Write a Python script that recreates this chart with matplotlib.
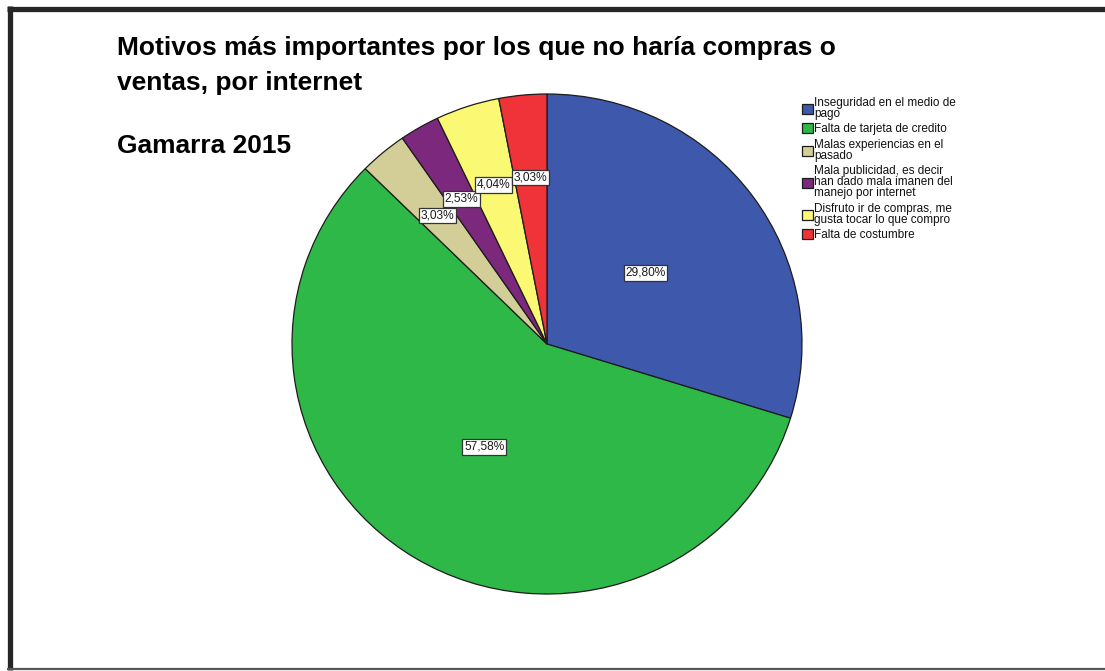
import matplotlib
matplotlib.use("Agg")
import matplotlib.pyplot as plt
from matplotlib.lines import Line2D
import numpy as np

plt.rcParams['font.family'] = ['Liberation Sans', 'DejaVu Sans']

# Survey results (percent of respondents)
categories = [
    "Inseguridad en el medio de\npago",
    "Falta de tarjeta de credito",
    "Malas experiencias en el\npasado",
    "Mala publicidad, es decir\nhan dado mala imanen del\nmanejo por internet",
    "Disfruto ir de compras, me\ngusta tocar lo que compro",
    "Falta de costumbre",
]
percentages = [29.80, 57.58, 3.03, 2.53, 4.04, 3.03]
value_labels = ["29,80%", "57,58%", "3,03%", "2,53%", "4,04%", "3,03%"]
colors = ["#3E58AC", "#2EB848", "#D3CE97", "#7C287D", "#FBF873", "#EF3338"]

title_line1 = "Motivos más importantes por los que no haría compras o"
title_line2 = "ventas, por internet"
subtitle = "Gamarra 2015"

W, H = 1105, 671
fig = plt.figure(figsize=(W / 100, H / 100), dpi=100)

# pie axes: centre (547, 344) px, radii 255 x 250 px
cx, cy, rx, ry = 547, 344, 255, 250
ax = fig.add_axes([(cx - rx) / W, (H - cy - ry) / H, 2 * rx / W, 2 * ry / H])
wedges, _ = ax.pie(percentages, colors=colors, startangle=90, counterclock=False,
                   radius=1.0,
                   wedgeprops=dict(edgecolor="#1c1c1c", linewidth=0.9))
ax.set_xlim(-1, 1)
ax.set_ylim(-1, 1)
ax.set_aspect('auto')
ax.axis('off')

# value labels inside the wedges
for w, lab, pct in zip(wedges, value_labels, percentages):
    ang = np.deg2rad((w.theta1 + w.theta2) / 2)
    r = 0.48 if pct > 10 else 0.67
    ax.text(r * np.cos(ang), r * np.sin(ang), lab, ha='center', va='center',
            fontsize=8.6, color="#1a1a1a",
            bbox=dict(boxstyle='square,pad=0.14', fc='white', ec='#333333', lw=0.9))

# legend
leg = ax.legend(wedges, categories, loc='upper left',
                bbox_to_anchor=(802 / W, 1 - 97 / H), bbox_transform=fig.transFigure,
                frameon=False, fontsize=8.5, handlelength=0.9, handleheight=0.9,
                handletextpad=0.15, labelspacing=0.3, borderpad=0, borderaxespad=0)
for t in leg.get_texts():
    t.set_linespacing(0.88)
    t.set_color("#111111")

# titles
for txt, base in [(title_line1, 55), (title_line2, 90), (subtitle, 153)]:
    fig.text(117 / W, 1 - base / H, txt, fontsize=19, fontweight='bold',
             ha='left', va='baseline', color='black')

# outer frame
fig.add_artist(Line2D([9.5 / W, 9.5 / W], [1 - 6 / H, 1 - 670 / H],
                      transform=fig.transFigure, color='#262626', lw=3.8,
                      solid_capstyle='butt'))
fig.add_artist(Line2D([7 / W, 1.0], [1 - 8.5 / H, 1 - 8.5 / H],
                      transform=fig.transFigure, color='#262626', lw=3.8,
                      solid_capstyle='butt'))
fig.add_artist(Line2D([7 / W, 1.0], [1 - 669 / H, 1 - 669 / H],
                      transform=fig.transFigure, color='#555555', lw=1.6,
                      solid_capstyle='butt'))

fig.savefig("out.png", dpi=100, facecolor='white')
